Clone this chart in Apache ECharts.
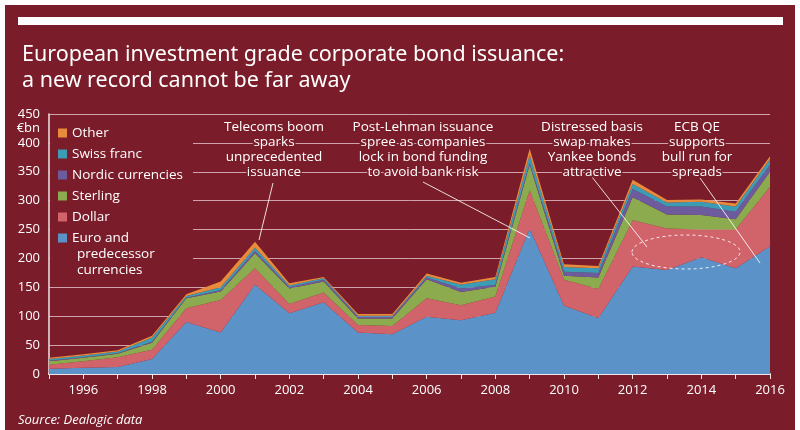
<!DOCTYPE html>
<html>
<head>
<meta charset="utf-8">
<script src="https://cdn.jsdelivr.net/npm/echarts@6/dist/echarts.min.js"></script>
<style>
  html, body { margin: 0; padding: 0; background: #fff; }
  #panel { position: absolute; left: 5px; top: 5px; width: 790px; height: 425px; background: #7a1c29; }
  #chart { position: absolute; left: 0; top: 0; width: 800px; height: 430px; }
</style>
</head>
<body>
<div id="panel"></div>
<div id="chart"></div>
<script>
// Issuance by currency, €bn
const years = ['1995', '1996', '1997', '1998', '1999', '2000', '2001', '2002', '2003', '2004', '2005',
  '2006', '2007', '2008', '2009', '2010', '2011', '2012', '2013', '2014', '2015', '2016']
const euro     = [9, 11, 12, 26, 90, 72, 155, 105, 124, 72, 69, 99, 93, 106, 252, 118, 97, 186, 180, 202, 183, 221]
const dollar   = [7, 11, 17, 16, 24, 56, 28, 16, 17, 13, 14, 32, 26, 28, 66, 45, 50, 80, 72, 48, 67, 103]
const sterling = [6, 6, 6, 12, 17, 15, 26, 27, 19, 11, 13, 33, 23, 17, 44, 7, 20, 40, 24, 25, 18, 26]
const nordic   = [1, 1, 1, 2, 1, 2, 4, 2, 3, 3, 3, 3, 6, 3, 3, 7, 8, 14, 14, 15, 13, 12]
const swiss    = [3, 3, 3, 7, 3, 5, 6, 3, 3, 2, 2, 3, 7, 10, 14, 8, 8, 9, 7, 8, 9, 10]
const other    = [2, 2, 2, 3, 3, 10, 10, 4, 2, 3, 3, 4, 3, 4, 11, 5, 4, 7, 4, 4, 5, 5]

const yTicks = { min: 0, max: 450, interval: 50 }
const EURO = 'Euro and predecessor currencies'
const legendOrder = ['Other', 'Swiss franc', 'Nordic currencies', 'Sterling', 'Dollar', EURO]

const BG = '#7a1c29'
const FONT = '"Open Sans", sans-serif'

const chart = echarts.init(document.getElementById('chart'))

const areaSeries = (name, data, color) => ({
  name,
  type: 'line',
  stack: 'total',
  data,
  symbol: 'none',
  lineStyle: { width: 0 },
  itemStyle: { color },
  areaStyle: { color, opacity: 1 },
  emphasis: { disabled: true }
})

// Annotation text blocks
const notes = [
  { x: 274, text: 'Telecoms boom\nsparks\nunprecedented\nissuance' },
  { x: 423, text: 'Post-Lehman issuance\nspree as companies\nlock in bond funding\nto avoid bank risk' },
  { x: 592, text: 'Distressed basis\nswap makes\nYankee bonds\nattractive' },
  { x: 697, text: 'ECB QE\nsupports\nbull run for\nspreads' }
]
const leaders = [
  [273, 183, 259, 240],
  [423, 182, 530, 238],
  [592, 177, 647, 247],
  [700, 178, 760, 263]
]

chart.setOption({
  animation: false,
  textStyle: { fontFamily: FONT },
  title: {
    text: 'European investment grade corporate bond issuance:\na new record cannot be far away',
    left: 17,
    top: 37,
    textStyle: {
      color: '#fff',
      fontFamily: '"Noto Sans", sans-serif',
      fontWeight: 'normal',
      fontSize: 21.5,
      lineHeight: 26
    }
  },
  legend: {
    orient: 'vertical',
    left: 50,
    top: 119,
    padding: [6, 10, 36, 8],
    backgroundColor: BG,
    itemWidth: 9,
    itemHeight: 9,
    itemGap: 5,
    icon: 'rect',
    data: legendOrder,
    formatter: name => (name === EURO ? 'Euro and' : name),
    textStyle: { color: '#fff', fontSize: 13.5, lineHeight: 16, fontFamily: FONT }
  },
  grid: { left: 49, right: 30, top: 114, bottom: 56 },
  xAxis: {
    type: 'category',
    data: years,
    boundaryGap: false,
    axisLine: { lineStyle: { color: '#f2e4e6', width: 2 } },
    axisTick: { show: true, interval: 0, length: 5, lineStyle: { color: '#f2e4e6' } },
    axisLabel: {
      interval: (i, v) => Number(v) % 2 === 0,
      color: '#fff',
      fontSize: 13,
      margin: 10,
      fontFamily: FONT
    },
    splitLine: { show: false }
  },
  yAxis: {
    type: 'value',
    min: yTicks.min,
    max: yTicks.max,
    interval: yTicks.interval,
    name: '€bn',
    nameLocation: 'end',
    nameGap: -14,
    nameTextStyle: { color: '#fff', fontSize: 13, align: 'right', verticalAlign: 'middle', padding: [0, 9, 0, 0] },
    axisLine: { show: true, lineStyle: { color: '#f2e4e6', width: 1.5 } },
    axisTick: { show: false },
    axisLabel: { color: '#fff', fontSize: 13, margin: 9, fontFamily: FONT },
    splitLine: { lineStyle: { color: 'rgba(255,235,238,0.65)', width: 1 } }
  },
  graphic: [
    { type: 'rect', shape: { x: 18, y: 17, width: 765, height: 8 }, style: { fill: '#fff' } },
    {
      type: 'text', x: 77, y: 246, z: 110,
      style: { text: 'predecessor\ncurrencies', fill: '#fff', font: '13.5px ' + FONT, lineHeight: 16 }
    },
    {
      type: 'text', x: 18, y: 414, z: 100,
      style: { text: 'Source: Dealogic data', fill: '#fff', font: 'italic 13px ' + FONT }
    },
    {
      type: 'ellipse', z: 100,
      shape: { cx: 686, cy: 252, rx: 54, ry: 17 },
      style: { fill: 'none', stroke: 'rgba(255,255,255,0.85)', lineWidth: 1, lineDash: [3, 3] }
    },
    ...leaders.map(l => ({
      type: 'line', z: 100,
      shape: { x1: l[0], y1: l[1], x2: l[2], y2: l[3] },
      style: { stroke: 'rgba(255,255,255,0.85)', lineWidth: 1 }
    })),
    ...notes.map(n => ({
      type: 'text', x: n.x, y: 120, z: 101,
      style: {
        text: n.text, fill: '#fff', font: '13.5px ' + FONT, lineHeight: 15,
        align: 'center', stroke: BG, lineWidth: 3
      }
    }))
  ],
  series: [
    areaSeries(EURO, euro, '#5b93c8'),
    areaSeries('Dollar', dollar, '#d1646b'),
    areaSeries('Sterling', sterling, '#8caa4e'),
    areaSeries('Nordic currencies', nordic, '#6e5b9d'),
    areaSeries('Swiss franc', swiss, '#3c9bb5'),
    areaSeries('Other', other, '#e88c3b')
  ]
})
</script>
</body>
</html>
